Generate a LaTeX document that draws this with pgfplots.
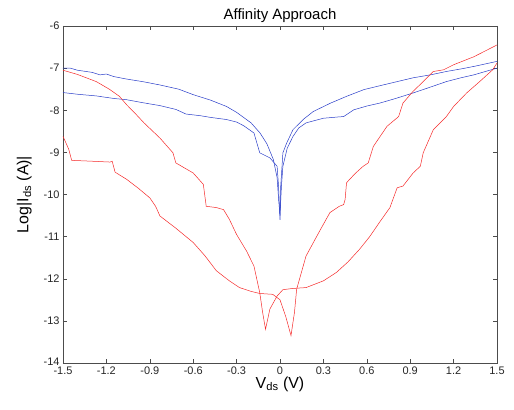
\documentclass[border=0pt]{standalone}
\usepackage{fontspec}
\setmainfont{Liberation Sans}
\usepackage{pgfplots}
\pgfplotsset{compat=1.18}
\definecolor{mblue}{RGB}{40,60,200}
\definecolor{mred}{RGB}{245,40,40}

\begin{document}
\begin{tikzpicture}
\begin{axis}[
    scale only axis,
    width=434bp, height=337bp,
    xmin=-1.5, xmax=1.5, ymin=-14, ymax=-6,
    xtick={-1.5,-1.2,-0.9,-0.6,-0.3,0,0.3,0.6,0.9,1.2,1.5},
    xticklabels={-1.5,-1.2,-0.9,-0.6,-0.3,0,0.3,0.6,0.9,1.2,1.5},
    ytick={-14,-13,-12,-11,-10,-9,-8,-7,-6},
    yticklabels={\raisebox{3bp}{-14},-13,-12,-11,-10,-9,-8,-7,-6},
    tick align=inside,
    major tick length=4bp,
    tick style={black!70, line width=0.4pt},
    axis line style={black!70, line width=0.5pt},
    ticklabel style={font=\fontsize{11}{12}\selectfont, text=black!85},
    xticklabel style={yshift=-0.5bp},
    title={Affinity Approach},
    title style={font=\fontsize{15}{16}\selectfont, yshift=-6bp},
    xlabel={V\textsubscript{ds} (V)},
    ylabel={Log|I\textsubscript{ds} (A)|},
    label style={font=\fontsize{16}{18}\selectfont},
    xlabel style={yshift=5bp},
    ylabel style={yshift=5bp},
    every axis plot/.append style={line width=0.5pt},
]
\coordinate (ll) at (rel axis cs:0,0);
\coordinate (ur) at (rel axis cs:1,1);
% blue sweeps
\addplot[mblue] coordinates {
(-1.5,-7.0) (-1.45,-7.0) (-1.4,-7.05) (-1.3,-7.1) (-1.244,-7.16) (-1.2,-7.14)
(-1.15,-7.2) (-1.06,-7.26) (-0.95,-7.32) (-0.83,-7.40) (-0.7,-7.5) (-0.6,-7.63)
(-0.48,-7.76) (-0.37,-7.91) (-0.3,-8.05) (-0.276,-8.11) (-0.2,-8.3) (-0.138,-8.54)
(-0.09,-8.8) (-0.046,-9.17) (-0.02,-9.6) (-0.01,-10.1) (0,-10.5)
(0.01,-9.8) (0.02,-9.33) (0.05,-8.9) (0.09,-8.62) (0.13,-8.42) (0.18,-8.30)
(0.30,-8.19) (0.40,-8.16) (0.44,-8.15) (0.51,-7.99) (0.6,-7.9) (0.69,-7.83)
(0.8,-7.72) (0.92,-7.59) (1.04,-7.45) (1.15,-7.32) (1.25,-7.23) (1.34,-7.16)
(1.42,-7.08) (1.5,-7.0)
};
\addplot[mblue] coordinates {
(-1.5,-7.58) (-1.4,-7.62) (-1.27,-7.66) (-1.15,-7.72) (-1.06,-7.75) (-0.95,-7.82)
(-0.83,-7.89) (-0.72,-7.98) (-0.65,-8.09) (-0.55,-8.13) (-0.48,-8.17) (-0.37,-8.22)
(-0.3,-8.28) (-0.25,-8.37) (-0.18,-8.54) (-0.14,-9.01) (-0.07,-9.13) (-0.02,-9.33)
(-0.01,-9.8) (0,-10.6)
(0.005,-9.8) (0.02,-9.01) (0.046,-8.78) (0.09,-8.46) (0.16,-8.22) (0.23,-8.03)
(0.35,-7.83) (0.46,-7.67) (0.58,-7.51) (0.7,-7.41) (0.81,-7.32) (0.92,-7.23)
(1.04,-7.16) (1.15,-7.08) (1.25,-7.02) (1.34,-6.96) (1.42,-6.9) (1.5,-6.84)
};
% red sweeps
\addplot[mred] coordinates {
(-1.5,-7.05) (-1.4,-7.15) (-1.27,-7.32) (-1.18,-7.5) (-1.11,-7.67) (-1.06,-7.87)
(-1.0,-8.08) (-0.94,-8.30) (-0.83,-8.66) (-0.74,-9.01) (-0.72,-9.25) (-0.6,-9.49)
(-0.53,-9.76) (-0.51,-10.28) (-0.44,-10.31) (-0.39,-10.36) (-0.35,-10.59)
(-0.30,-10.95) (-0.23,-11.35) (-0.18,-11.70) (-0.14,-12.33) (-0.12,-12.8)
(-0.10,-13.2) (-0.07,-12.72) (-0.02,-12.41) (0.02,-12.26) (0.09,-12.23)
(0.18,-12.21) (0.30,-12.05) (0.39,-11.85) (0.47,-11.6) (0.55,-11.30) (0.62,-11.0)
(0.69,-10.65) (0.76,-10.31) (0.78,-10.12) (0.81,-9.84) (0.85,-9.80) (0.92,-9.49)
(0.97,-9.33) (0.99,-9.01) (1.06,-8.46) (1.15,-8.15) (1.20,-7.91) (1.29,-7.59)
(1.38,-7.32) (1.47,-7.04) (1.5,-6.88)
};
\addplot[mred] coordinates {
(-1.5,-8.62) (-1.47,-8.85) (-1.46,-8.93) (-1.44,-9.19) (-1.3,-9.21) (-1.175,-9.23)
(-1.16,-9.21) (-1.14,-9.47) (-1.06,-9.64) (-0.98,-9.85) (-0.90,-10.08)
(-0.86,-10.28) (-0.83,-10.51) (-0.72,-10.8) (-0.60,-11.14) (-0.52,-11.45)
(-0.44,-11.81) (-0.35,-12.05) (-0.28,-12.21) (-0.20,-12.3) (-0.14,-12.35)
(-0.05,-12.37) (0.0,-12.5) (0.04,-12.9) (0.076,-13.35) (0.1,-12.8) (0.115,-12.25)
(0.18,-11.46) (0.28,-10.83) (0.345,-10.43) (0.41,-10.28) (0.44,-10.24)
(0.45,-10.12) (0.46,-9.72) (0.52,-9.5) (0.575,-9.33) (0.61,-9.25) (0.645,-8.86)
(0.74,-8.38) (0.82,-8.15) (0.85,-7.83) (0.92,-7.55) (0.99,-7.32) (1.06,-7.08)
(1.13,-7.04) (1.20,-6.92) (1.34,-6.73) (1.5,-6.45)
};
\end{axis}
\pgfresetboundingbox
\path[use as bounding box] ([shift={(-63bp,-47bp)}]ll) rectangle ([shift={(17bp,26bp)}]ur);
\end{tikzpicture}
\end{document}
